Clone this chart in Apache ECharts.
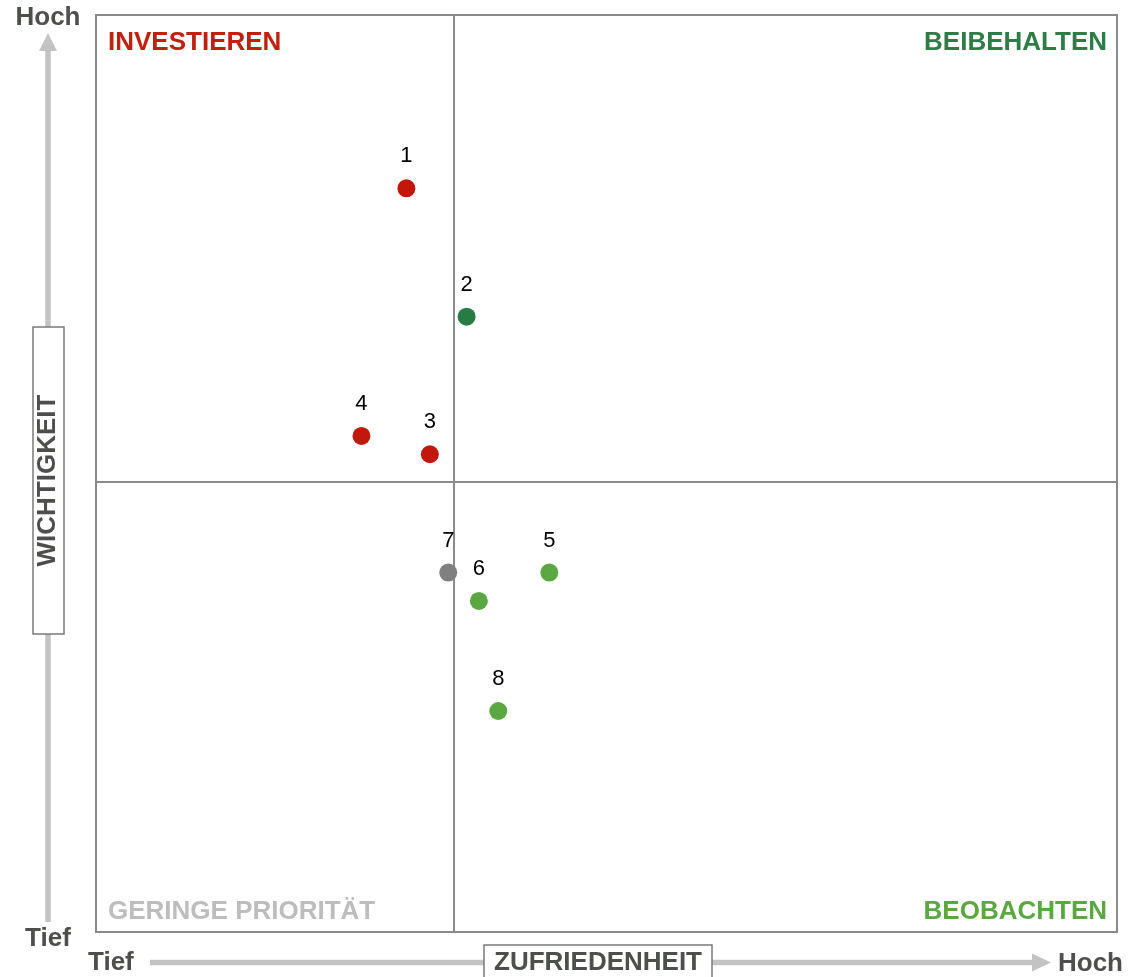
<!DOCTYPE html>
<html>
<head>
<meta charset="utf-8">
<script src="https://cdn.jsdelivr.net/npm/echarts@6/dist/echarts.min.js"></script>
<style>
  html, body { margin: 0; padding: 0; background: #fff; }
  #chart { width: 1128px; height: 977px; }
</style>
</head>
<body>
<div id="chart"></div>
<script>
// values, scale 0..100 on both axes
const ids = ['1', '2', '3', '4', '5', '6', '7', '8']
const satisfaction = [30.4, 36.3, 32.7, 26.0, 44.4, 37.5, 34.5, 39.4]
const importance = [81.1, 67.1, 52.1, 54.1, 39.2, 36.1, 39.2, 24.1]
const pointColors = ['#c0190b', '#277b45', '#c0190b', '#c0190b', '#5ba843', '#5ba843', '#808080', '#5ba843']
const xSplit = 35.06
const ySplit = 49.07

const textGray = '#4d4f4d'
const arrowGray = '#c3c3c3'
const fontFamily = '"Liberation Sans", Arial, sans-serif'

const chart = echarts.init(document.getElementById('chart'))

const data = ids.map((id, i) => ({
  name: id,
  value: [satisfaction[i], importance[i]],
  itemStyle: { color: pointColors[i], opacity: 1 }
}))

// bold text helper for the graphic layer
const boldText = (text, color, x, y, align, extra) => Object.assign({
  type: 'text',
  x, y,
  style: {
    text, fill: color, fontSize: 26, fontWeight: 'bold', fontFamily,
    align, verticalAlign: 'middle'
  }
}, extra || {})

chart.setOption({
  animation: false,
  grid: {
    left: 96, top: 15, width: 1021, height: 917,
    show: true, borderColor: '#8a8a8a', borderWidth: 2, backgroundColor: '#fff'
  },
  xAxis: {
    type: 'value', min: 0, max: 100,
    axisLine: { show: false }, axisTick: { show: false },
    axisLabel: { show: false }, splitLine: { show: false }
  },
  yAxis: {
    type: 'value', min: 0, max: 100,
    axisLine: { show: false }, axisTick: { show: false },
    axisLabel: { show: false }, splitLine: { show: false }
  },
  series: [{
    type: 'scatter',
    symbolSize: 18,
    data,
    label: {
      show: true,
      position: 'top',
      distance: 12,
      formatter: p => p.name,
      color: '#000',
      fontSize: 22,
      fontFamily
    },
    emphasis: { disabled: true },
    markLine: {
      silent: true,
      symbol: 'none',
      label: { show: false },
      lineStyle: { color: '#8a8a8a', width: 2, type: 'solid' },
      data: [{ xAxis: xSplit }, { yAxis: ySplit }]
    },
    z: 5
  }],
  graphic: [
    boldText('INVESTIEREN', '#c0200e', 108, 43, 'left'),
    boldText('BEIBEHALTEN', '#2e7d46', 1107, 43, 'right'),
    boldText('GERINGE PRIORITÄT', '#bdbdbd', 108, 912, 'left'),
    boldText('BEOBACHTEN', '#5ba843', 1107, 912, 'right'),

    // vertical axis arrow
    { type: 'line', shape: { x1: 48, y1: 48, x2: 48, y2: 922 }, style: { stroke: arrowGray, lineWidth: 5.5 } },
    { type: 'polygon', shape: { points: [[48, 33], [39, 51], [57, 51]] }, style: { fill: arrowGray } },
    // horizontal axis arrow
    { type: 'line', shape: { x1: 150, y1: 962.5, x2: 1034, y2: 962.5 }, style: { stroke: arrowGray, lineWidth: 5.5 } },
    { type: 'polygon', shape: { points: [[1051, 962.5], [1032, 953.5], [1032, 971.5]] }, style: { fill: arrowGray } },

    // axis end labels
    boldText('Hoch', textGray, 48, 18, 'center'),
    boldText('Tief', textGray, 48, 939, 'center'),
    boldText('Tief', textGray, 88, 963, 'left'),
    boldText('Hoch', textGray, 1058, 964, 'left'),

    // axis title boxes
    { type: 'rect', shape: { x: 33, y: 327, width: 31, height: 307 }, style: { fill: '#fff', stroke: '#7a7a7a', lineWidth: 1.5 } },
    boldText('WICHTIGKEIT', textGray, 48, 480.5, 'center', { rotation: Math.PI / 2 }),
    { type: 'rect', shape: { x: 484, y: 945, width: 228, height: 40 }, style: { fill: '#fff', stroke: '#7a7a7a', lineWidth: 1.5 } },
    boldText('ZUFRIEDENHEIT', textGray, 598, 963, 'center')
  ]
})

window.addEventListener('resize', () => chart.resize())
</script>
</body>
</html>
